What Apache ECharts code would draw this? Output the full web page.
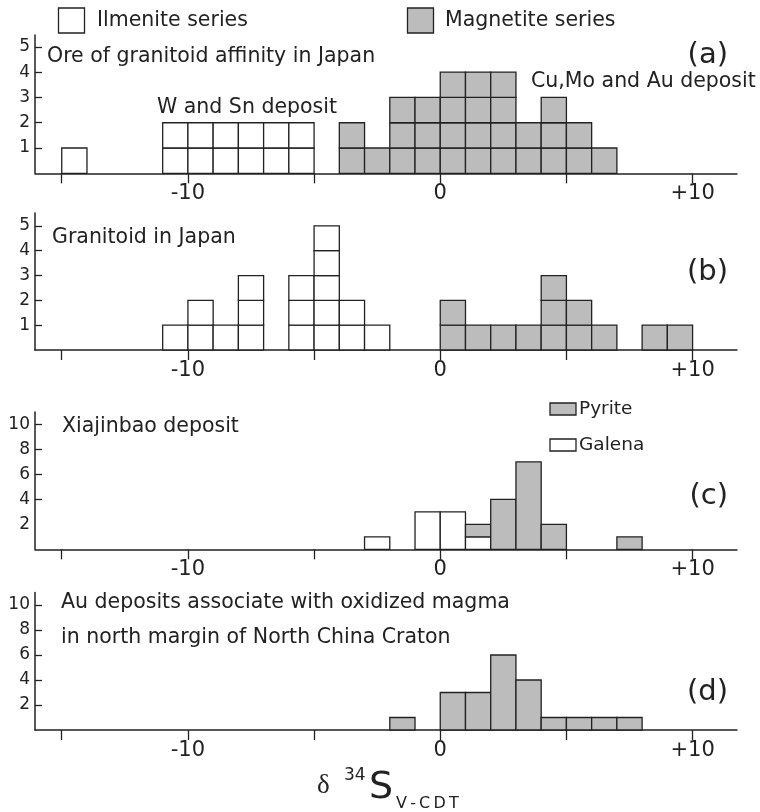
<!DOCTYPE html>
<html>
<head>
<meta charset="utf-8">
<script src="https://cdn.jsdelivr.net/npm/echarts@6/dist/echarts.min.js"></script>
<style>
  html, body { margin: 0; padding: 0; background: #ffffff; }
  #chart { width: 760px; height: 812px; }
</style>
</head>
<body>
<div id="chart"></div>
<script>
// δ34S histograms in 1‰ bins. Each pair is [bin start (‰), count].
const ilmeniteOre = [[-15, 1], [-11, 2], [-10, 2], [-9, 2], [-8, 2], [-7, 2], [-6, 2]];
const magnetiteOre = [[-4, 2], [-3, 1], [-2, 3], [-1, 3], [0, 4], [1, 4], [2, 4], [3, 2], [4, 3], [5, 2], [6, 1]];
const ilmeniteGranitoid = [[-11, 1], [-10, 2], [-9, 1], [-8, 3], [-6, 3], [-5, 5], [-4, 2], [-3, 1]];
const magnetiteGranitoid = [[0, 2], [1, 1], [2, 1], [3, 1], [4, 3], [5, 2], [6, 1], [8, 1], [9, 1]];
const galenaXiajinbao = [[-3, 1], [-1, 3], [0, 3], [1, 1]];
const pyriteXiajinbao = [[1, 1], [2, 4], [3, 7], [4, 2], [7, 1]];
const pyriteNorthChina = [[-2, 1], [0, 3], [1, 3], [2, 6], [3, 4], [4, 1], [5, 1], [6, 1], [7, 1]];

// Axis ticks and labels
const xTickValues = [-15, -10, -5, 0, 5, 10];
const xLabelValues = [-10, 0, 10];
const countLabelsSmall = [1, 2, 3, 4, 5];
const countLabelsLarge = [2, 4, 6, 8, 10];
const countTicksXiajinbao = [4, 6, 8, 10];

const INK = '#222222';
const GREY = '#bcbcbc';
const FONT = "'DejaVu Sans', 'Liberation Sans', sans-serif";
const SERIF = "'Liberation Serif', 'DejaVu Serif', serif";

const chart = echarts.init(document.getElementById('chart'), null, { renderer: 'canvas' });

// Grid boxes for the four stacked panels
const grids = [
  { left: 35, width: 702, top: 35, height: 138.3 },
  { left: 35, width: 702, top: 213, height: 137 },
  { left: 35, width: 702, top: 412, height: 137.3 },
  { left: 35, width: 702, top: 592.5, height: 137.5 }
];
const yMax = [5.47, 5.52, 11, 11];
const yLabels = [countLabelsSmall, countLabelsSmall, countLabelsLarge, countLabelsLarge];
const yTicks = [countLabelsSmall, countLabelsSmall, countTicksXiajinbao, countLabelsLarge];

const xAxes = grids.map((g, i) => ({
  type: 'value', gridIndex: i, min: -16.06, max: 11.76,
  axisLine: { onZero: false, lineStyle: { color: INK, width: 1.5 } },
  axisTick: { customValues: xTickValues, length: 10, lineStyle: { color: INK, width: 1.3 } },
  axisLabel: {
    customValues: xLabelValues, fontSize: 21, color: INK, fontFamily: FONT, margin: 10,
    formatter: v => (v > 0 ? '+' + v : String(v))
  },
  splitLine: { show: false }
}));

const yAxes = grids.map((g, i) => ({
  type: 'value', gridIndex: i, min: 0, max: yMax[i],
  axisLine: { show: true, onZero: false, lineStyle: { color: INK, width: 1.5 } },
  axisTick: { show: true, inside: true, length: 7, customValues: yTicks[i], lineStyle: { color: INK, width: 1.3 } },
  axisLabel: { customValues: yLabels[i], fontSize: 17, color: INK, fontFamily: FONT, margin: 5 },
  splitLine: { show: false }
}));

// Histogram columns drawn as 1‰-wide rectangles; "blocks" splits a column into unit cells,
// "base" lifts a column to sit on top of another series in the same bin.
function histogram(panel, pairs, fill, blocks, base) {
  const lift = {};
  (base || []).forEach(p => { lift[p[0]] = p[1]; });
  return {
    type: 'custom', xAxisIndex: panel, yAxisIndex: panel, z: 3,
    data: pairs.map(p => [p[0], p[1], lift[p[0]] || 0]),
    encode: { x: 0, y: 1 },
    renderItem(params, api) {
      const x0 = api.value(0), n = api.value(1), b = api.value(2);
      const cells = [];
      const steps = blocks ? n : 1;
      for (let k = 0; k < steps; k++) {
        const lo = blocks ? b + k : b;
        const hi = blocks ? lo + 1 : b + n;
        const p0 = api.coord([x0, lo]);
        const p1 = api.coord([x0 + 1, hi]);
        cells.push({
          type: 'rect',
          shape: { x: p0[0], y: p1[1], width: p1[0] - p0[0], height: p0[1] - p1[1] },
          style: { fill: fill, stroke: INK, lineWidth: 1.3 }
        });
      }
      return { type: 'group', children: cells };
    }
  };
}

// Free text placed by its left edge (or right edge) and vertical middle
function label(text, x, y, size, opts) {
  const o = opts || {};
  return {
    type: 'text', x: x, y: y, z: 10,
    style: {
      text: text, fontSize: size, fontFamily: o.family || FONT, fill: INK,
      align: o.align || 'left', verticalAlign: 'middle'
    }
  };
}
function swatch(x, y, w, h, fill) {
  return { type: 'rect', x: x, y: y, z: 10, shape: { x: 0, y: 0, width: w, height: h }, style: { fill: fill, stroke: INK, lineWidth: 1.3 } };
}

const graphics = [
  // top legend
  swatch(58.5, 8, 26, 25, '#ffffff'),
  label('Ilmenite series', 97, 21, 20.5),
  swatch(407.5, 8, 26, 25, GREY),
  label('Magnetite series', 445, 21, 20.5),
  // panel (a)
  label('Ore of granitoid affinity in Japan', 47, 57, 20.5),
  label('W and Sn deposit', 157, 108, 20.5),
  label('Cu,Mo and Au deposit', 531, 82, 20.5),
  label('(a)', 728, 55, 29, { align: 'right' }),
  // panel (b)
  label('Granitoid in Japan', 52, 238, 20.5),
  label('(b)', 728, 272, 29, { align: 'right' }),
  // panel (c)
  label('Xiajinbao deposit', 62, 427, 20.5),
  swatch(550, 403, 26, 12, GREY),
  label('Pyrite', 579, 409, 18.5),
  swatch(550, 439, 26, 12, '#ffffff'),
  label('Galena', 579, 445, 18.5),
  label('(c)', 728, 496, 29, { align: 'right' }),
  // panel (d)
  label('Au deposits associate with oxidized magma', 61, 603, 20.5),
  label('in north margin of North China Craton', 61, 638, 20.5),
  label('(d)', 728, 692, 29, { align: 'right' }),
  // x-axis title: δ34S V-CDT
  label('δ', 317, 786, 27, { family: SERIF }),
  label('34', 344, 776, 17),
  label('S', 369, 788, 38),
  label('V\u2009-\u2009C\u2009D\u2009T', 396, 804, 16)
];

chart.setOption({
  backgroundColor: '#ffffff',
  animation: false,
  grid: grids,
  xAxis: xAxes,
  yAxis: yAxes,
  graphic: graphics,
  series: [
    histogram(0, ilmeniteOre, '#ffffff', true),
    histogram(0, magnetiteOre, GREY, true),
    histogram(1, ilmeniteGranitoid, '#ffffff', true),
    histogram(1, magnetiteGranitoid, GREY, true),
    histogram(2, galenaXiajinbao, '#ffffff', false),
    histogram(2, pyriteXiajinbao, GREY, false, galenaXiajinbao),
    histogram(3, pyriteNorthChina, GREY, false)
  ]
});
</script>
</body>
</html>
